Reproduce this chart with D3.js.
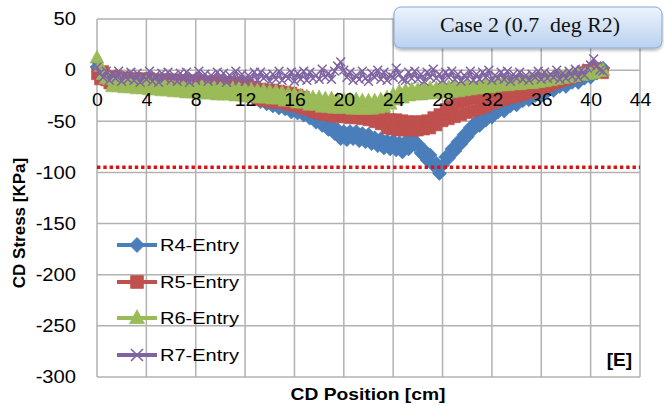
<!DOCTYPE html>
<html><head><meta charset="utf-8">
<script src="https://cdn.jsdelivr.net/npm/d3@7"></script>
<style>body{margin:0;background:#fff}</style>
</head><body><svg id="c" width="664" height="406"></svg>
<script>
// ---------- data ----------
const positions = [
  0,0.25,0.5,0.75, 1,1.25,1.5,1.75, 2,2.25,2.5,2.75, 3,3.25,3.5,3.75, 4,4.25,4.5,4.75,
  5,5.25,5.5,5.75, 6,6.25,6.5,6.75, 7,7.25,7.5,7.75, 8,8.25,8.5,8.75, 9,9.25,9.5,9.75,
  10,10.25,10.5,10.75, 11,11.25,11.5,11.75, 12,12.25,12.5,12.75, 13,13.25,13.5,13.75, 14,14.25,14.5,14.75,
  15,15.25,15.5,15.75, 16,16.25,16.5,16.75, 17,17.25,17.5,17.75, 18,18.25,18.5,18.75, 19,19.25,19.5,19.75,
  20,20.25,20.5,20.75, 21,21.25,21.5,21.75, 22,22.25,22.5,22.75, 23,23.25,23.5,23.75, 24,24.25,24.5,24.75,
  25,25.25,25.5,25.75, 26,26.25,26.5,26.75, 27,27.25,27.5,27.75, 28,28.25,28.5,28.75, 29,29.25,29.5,29.75,
  30,30.25,30.5,30.75, 31,31.25,31.5,31.75, 32,32.25,32.5,32.75, 33,33.25,33.5,33.75, 34,34.25,34.5,34.75,
  35,35.25,35.5,35.75, 36,36.25,36.5,36.75, 37,37.25,37.5,37.75, 38,38.25,38.5,38.75, 39,39.25,39.5,39.75,
  40,40.25,40.5,40.75, 41];
const seriesNames = ["R4-Entry","R5-Entry","R6-Entry","R7-Entry"];
const r4 = [
  3,-1,-6,-9, -10,-14,-11,-15, -11,-15,-12,-15, -11,-15,-12,-16, -12,-16,-12,-16,
  -12,-16,-13,-17, -13,-17,-13,-17, -13,-17,-14,-18, -14,-18,-14,-18, -14,-19,-15,-19,
  -15,-20,-16,-21, -17,-22,-19,-24, -21,-26,-23,-28, -25,-31,-28,-33, -30,-35,-32,-37,
  -33,-38,-35,-41, -36,-42,-38,-44, -41,-47,-44,-51, -47,-54,-50,-58, -54,-62,-58,-67,
  -60,-68,-60,-67, -60,-69,-62,-70, -63,-72,-66,-74, -67,-76,-69,-77, -69,-78,-71,-80,
  -70,-77,-65,-73, -72,-81,-78,-88, -83,-93,-91,-101, -93,-85,-86,-77, -79,-70,-72,-63,
  -65,-56,-58,-50, -54,-46,-49,-42, -46,-38,-41,-34, -40,-33,-35,-29, -34,-27,-30,-24,
  -29,-23,-25,-20, -25,-19,-21,-16, -20,-15,-16,-12, -16,-11,-12,-8, -12,-7,-8,-4,
  -7,-3,-3,0, 2];
const r5 = [
  -4,-9,-1,-10, -13,-6,-13,-7, -14,-7,-14,-8, -14,-8,-15,-8, -15,-8,-15,-9,
  -15,-9,-16,-9, -16,-9,-16,-10, -16,-10,-17,-10, -17,-10,-17,-11, -17,-11,-18,-11,
  -18,-12,-18,-12, -19,-12,-20,-13, -22,-14,-24,-16, -29,-18,-30,-19, -31,-19,-32,-20,
  -32,-21,-34,-22, -35,-24,-37,-26, -39,-29,-41,-31, -43,-34,-44,-35, -45,-37,-46,-37,
  -46,-39,-47,-40, -47,-40,-48,-41, -49,-42,-51,-45, -53,-45,-57,-48, -58,-48,-59,-49,
  -59,-50,-59,-50, -59,-50,-58,-49, -57,-46,-54,-43, -50,-38,-48,-35, -46,-32,-44,-30,
  -42,-28,-40,-27, -38,-26,-36,-25, -33,-24,-31,-23, -29,-22,-27,-21, -26,-21,-24,-20,
  -22,-19,-21,-18, -18,-16,-16,-14, -13,-12,-11,-10, -9,-8,-7,-6, -5,-3,-2,0,
  0,2,1,-1, -3];
const r6 = [
  12,4,-4,-8, -9,-16,-10,-16, -10,-17,-11,-17, -11,-18,-12,-18, -12,-19,-13,-19,
  -13,-20,-14,-20, -14,-21,-14,-21, -15,-22,-15,-22, -16,-23,-16,-23, -16,-23,-17,-24,
  -17,-24,-17,-24, -18,-25,-18,-25, -19,-26,-19,-26, -20,-27,-20,-27, -21,-28,-21,-28,
  -22,-30,-23,-30, -24,-32,-25,-32, -26,-34,-27,-34, -27,-36,-28,-36, -28,-37,-29,-37,
  -29,-37,-29,-38, -29,-38,-30,-38, -30,-38,-30,-37, -29,-36,-27,-33, -24,-29,-21,-27,
  -20,-25,-19,-24, -19,-24,-18,-23, -18,-23,-18,-22, -17,-22,-17,-21, -16,-21,-16,-20,
  -15,-19,-15,-18, -14,-18,-14,-17, -13,-16,-12,-15, -12,-15,-11,-14, -11,-14,-10,-13,
  -10,-13,-9,-12, -8,-11,-8,-10, -7,-9,-6,-8, -5,-7,-5,-6, -4,-5,-3,-4,
  -2,-3,-1,-1, 0];
const r7 = [
  3,-3,-7,-1, -10,-3,-8,-1, -11,-4,-9,-2, -10,-3,-12,-6, -9,-1,-11,-5,
  -12,-3,-8,-2, -10,-5,-11,-3, -9,-2,-12,-6, -10,-1,-8,-4, -11,-5,-9,-2,
  -10,-3,-12,-5, -8,-1,-10,-4, -11,-5,-9,-2, -10,-2,-8,-5, -11,-4,-9,-1,
  -10,-5,-8,-2, -11,-3,-9,-1, -10,-2,-8,-5, -9,1,-7,-3, -9,-1,4,8,
  0,-7,-2,-10, -5,-9,-1,-8, -11,-3,-7,0, -9,-2,-10,-5, -7,2,-4,-9,
  -10,-2,-8,-1, -9,-4,-11,-2, -7,1,-8,-4, -10,-2,-7,-1, -9,-4,-11,-5,
  -8,-1,-10,-4, -9,-2,-7,0, -10,-5,-8,-2, -9,-1,-11,-4, -8,-2,-9,-5,
  -10,-4,-7,-1, -9,-2,-8,-4, -7,0,-9,-3, -8,-1,-6,1, -7,0,-5,2,
  5,11,4,0, -1];
const xTicks = [0,4,8,12,16,20,24,28,32,36,40,44];
const yTicks = [50,0,-50,-100,-150,-200,-250,-300];
const limitValue = -95;
const limitRange = [0,44];
const titleText = "Case 2 (0.7  deg R2)";
const panelLabel = "[E]";
const xTitle = "CD Position [cm]";
const yTitle = "CD Stress [KPa]";

// ---------- styles ----------
const colors = ["#4a7ebb","#c0504d","#9bbb59","#8064a2"];
const markerPaths = [
  s => `M0,${-s}L${s},0L0,${s}L${-s},0Z`,
  s => `M${-s*0.85},${-s*0.85}h${s*1.7}v${s*1.7}h${-s*1.7}Z`,
  s => `M0,${-s*1.1}L${s},${s*0.75}L${-s},${s*0.75}Z`,
  s => `M${-s*0.85},${-s*0.85}L${s*0.85},${s*0.85}M${s*0.85},${-s*0.85}L${-s*0.85},${s*0.85}`
];
const seriesData = [r4,r5,r6,r7];
const markerSize = [7,6.5,7,5.2];
const lineWidth = [2.5,2.5,2.5,1.8];

const svg = d3.select("#c");
const X0 = 97, X1 = 640, Y0 = 19, Y1 = 377;
const x = d3.scaleLinear().domain([0,44]).range([X0,X1]);
const y = d3.scaleLinear().domain([-300,50]).range([Y1,Y0]);
const FONT = "'Liberation Sans', Arial, sans-serif";

function stretch(sel, factor){
  sel.each(function(){
    const w = this.getComputedTextLength();
    d3.select(this).attr("textLength", w*factor).attr("lengthAdjust","spacingAndGlyphs");
  });
}

// gridlines
const grid = svg.append("g").attr("stroke","#b2b2b2").attr("stroke-width",1.5);
grid.selectAll("line.h").data(yTicks).join("line")
  .attr("x1",X0).attr("x2",X1).attr("y1",d=>y(d)).attr("y2",d=>y(d));
grid.selectAll("line.v").data(xTicks).join("line")
  .attr("y1",Y0).attr("y2",Y1).attr("x1",d=>x(d)).attr("x2",d=>x(d));

// y axis labels
const yAxis = svg.append("g").attr("transform",`translate(${X0},0)`)
  .call(d3.axisLeft(y).tickValues(yTicks).tickSize(0).tickPadding(21).tickFormat(d=>String(d)));
yAxis.select(".domain").remove();
yAxis.selectAll("text").attr("font-family",FONT).attr("font-size",18).attr("fill","#000");
stretch(yAxis.selectAll("text"),1.12);

// series
const line = d3.line().x((d,i)=>x(positions[i])).y(d=>y(d));
seriesData.forEach((vals,k)=>{
  const g = svg.append("g");
  g.append("path").attr("d",line(vals)).attr("fill","none")
    .attr("stroke",colors[k]).attr("stroke-width",lineWidth[k]).attr("stroke-linejoin","round");
  g.selectAll("path.m").data(vals).join("path").attr("class","m")
    .attr("transform",(d,i)=>`translate(${x(positions[i])},${y(d)})`)
    .attr("d",markerPaths[k](markerSize[k]))
    .attr("fill",k===3?"none":colors[k])
    .attr("stroke",colors[k]).attr("stroke-width",k===3?1.5:0.6);
});

// x axis labels at zero line (drawn over the data, as in the reference)
const xAxis = svg.append("g").attr("transform",`translate(0,${y(0)})`)
  .call(d3.axisBottom(x).tickValues(xTicks).tickSize(0).tickPadding(23).tickFormat(d=>String(d)));
xAxis.select(".domain").remove();
xAxis.selectAll("text").attr("font-family",FONT).attr("font-size",18).attr("fill","#000");
stretch(xAxis.selectAll("text"),1.08);

// limit line
svg.append("line").attr("x1",x(limitRange[0])).attr("x2",x(limitRange[1]))
  .attr("y1",y(limitValue)).attr("y2",y(limitValue))
  .attr("stroke","#dd1111").attr("stroke-width",3.5).attr("stroke-dasharray","3.4,2.9");

// legend
const lg = svg.append("g");
const legY = [245,282,318,355];
seriesNames.forEach((name,k)=>{
  lg.append("line").attr("x1",117).attr("x2",157).attr("y1",legY[k]).attr("y2",legY[k])
    .attr("stroke",colors[k]).attr("stroke-width",4);
  lg.append("path").attr("transform",`translate(137,${legY[k]})`)
    .attr("d",markerPaths[k](k===3?7:7.5))
    .attr("fill",k===3?"none":colors[k]).attr("stroke",colors[k]).attr("stroke-width",k===3?1.6:0.8);
  lg.append("text").attr("x",160).attr("y",legY[k]).attr("dy","0.35em")
    .attr("font-family",FONT).attr("font-size",17).text(name)
    .attr("textLength",79).attr("lengthAdjust","spacingAndGlyphs");
});

// panel label
svg.append("text").attr("x",632).attr("y",366).attr("text-anchor","end")
  .attr("font-family",FONT).attr("font-weight","bold").attr("font-size",19).text(panelLabel);

// axis titles
svg.append("text").attr("x",368).attr("y",400).attr("text-anchor","middle")
  .attr("font-family",FONT).attr("font-weight","bold").attr("font-size",17).text(xTitle)
  .attr("textLength",155).attr("lengthAdjust","spacingAndGlyphs");
svg.append("text").attr("transform","translate(25,223) rotate(-90)").attr("text-anchor","middle")
  .attr("font-family",FONT).attr("font-weight","bold").attr("font-size",17).text(yTitle);

// title box
const defs = svg.append("defs");
const gr = defs.append("linearGradient").attr("id","tg").attr("x1",0).attr("y1",0).attr("x2",0).attr("y2",1);
gr.append("stop").attr("offset","0%").attr("stop-color","#edf3fc");
gr.append("stop").attr("offset","100%").attr("stop-color","#b9d1f0");
const f = defs.append("filter").attr("id","sh").attr("x","-10%").attr("y","-20%").attr("width","130%").attr("height","160%");
f.append("feDropShadow").attr("dx",0).attr("dy",2).attr("stdDeviation",1.5).attr("flood-color","#000").attr("flood-opacity",0.3);
svg.append("rect").attr("x",394).attr("y",7).attr("width",268).attr("height",41).attr("rx",7)
  .attr("fill","url(#tg)").attr("stroke","#86a9d8").attr("stroke-width",1).attr("filter","url(#sh)");
svg.append("text").attr("x",530).attr("y",32).attr("text-anchor","middle")
  .attr("font-family","'Liberation Serif', 'Times New Roman', serif").attr("font-size",20)
  .attr("fill","#111").text(titleText).attr("textLength",180).attr("lengthAdjust","spacingAndGlyphs")
  .style("white-space","pre");
</script>
</body></html>
